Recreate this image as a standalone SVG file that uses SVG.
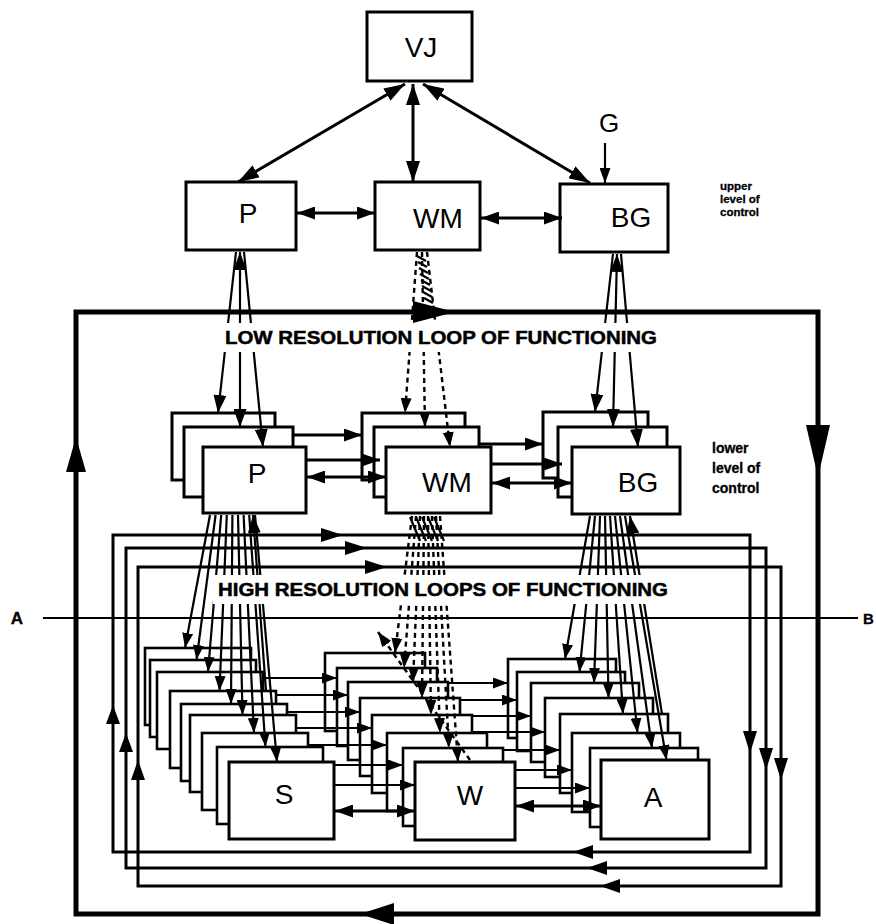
<svg xmlns="http://www.w3.org/2000/svg" width="876" height="924" viewBox="0 0 876 924">
<defs>
<style>
.box{fill:#fff;stroke:#000;stroke-width:3}
.sbox{fill:#fff;stroke:#000;stroke-width:2.6}
.lbl{font-family:"Liberation Sans",Arial,Helvetica,sans-serif;font-size:28px;fill:#000;text-anchor:middle}
.sml{font-family:"Liberation Sans",Arial,Helvetica,sans-serif;font-weight:bold;fill:#000;stroke:#000;stroke-width:0.3}
.big{font-family:"Liberation Sans",Arial,Helvetica,sans-serif;font-weight:bold;font-size:19px;fill:#000;stroke:#000;stroke-width:0.5}
.c3{stroke:#000;stroke-width:3;fill:none}
.c2{stroke:#000;stroke-width:2.2;fill:none}
.dash{stroke:#000;stroke-width:2.4;fill:none;stroke-dasharray:5 4}
.loop{stroke:#000;stroke-width:5;fill:none}
.wb{fill:#fff;stroke:none}
</style>
<marker id="hb" viewBox="0 0 21 14" refX="21" refY="7" markerWidth="21" markerHeight="14" markerUnits="userSpaceOnUse" orient="auto-start-reverse"><path d="M0,0 L21,7 L0,14 z"/></marker>
<marker id="hm" viewBox="0 0 18 13" refX="18" refY="6.5" markerWidth="18" markerHeight="13" markerUnits="userSpaceOnUse" orient="auto-start-reverse"><path d="M0,0 L18,6.5 L0,13 z"/></marker>
<marker id="hs" viewBox="0 0 15 11" refX="15" refY="5.5" markerWidth="15" markerHeight="11" markerUnits="userSpaceOnUse" orient="auto-start-reverse"><path d="M0,0 L15,5.5 L0,11 z"/></marker>
</defs>
<rect x="0" y="0" width="876" height="924" fill="#fff"/>

<g id="VJ"><rect class="box" x="367" y="12" width="105" height="69"/><text class="lbl" x="421" y="57">VJ</text></g>
<g id="P-upper"><rect class="box" x="186" y="182" width="110" height="68"/><text class="lbl" x="248" y="223">P</text></g>
<g id="WM-upper"><rect class="box" x="375" y="182" width="105" height="68"/><text class="lbl" x="438" y="228">WM</text></g>
<g id="BG-upper"><rect class="box" x="560" y="184" width="108" height="68"/><text class="lbl" x="631" y="227">BG</text></g>

<g id="P-lower">
<rect class="box" x="172" y="413" width="103" height="67"/>
<rect class="box" x="184" y="427" width="109" height="70"/>
<rect class="box" x="203" y="447" width="103" height="66"/>
<text class="lbl" x="257" y="483">P</text></g>
<g id="WM-lower">
<rect class="box" x="362" y="413" width="103" height="67"/>
<rect class="box" x="374" y="427" width="105" height="70"/>
<rect class="box" x="386" y="447" width="105" height="66"/>
<text class="lbl" x="447" y="492">WM</text></g>
<g id="BG-lower">
<rect class="box" x="543" y="412" width="105" height="66"/>
<rect class="box" x="558" y="427" width="109" height="70"/>
<rect class="box" x="572" y="447" width="108" height="67"/>
<text class="lbl" x="638" y="492">BG</text></g>

<g id="S-stack">
<rect class="sbox" x="145" y="648" width="106" height="77"/>
<rect class="sbox" x="150" y="660" width="106" height="77"/>
<rect class="sbox" x="157" y="672" width="106" height="77"/>
<rect class="sbox" x="170" y="691" width="106" height="77"/>
<rect class="sbox" x="181" y="704" width="106" height="77"/>
<rect class="sbox" x="190" y="715" width="106" height="77"/>
<rect class="sbox" x="202" y="733" width="106" height="77"/>
<rect class="sbox" x="217" y="747" width="106" height="77"/>
<rect class="box" x="229" y="762" width="105" height="77"/>
<text class="lbl" x="284" y="804">S</text></g>
<g id="W-stack">
<rect class="sbox" x="325" y="653" width="100" height="78"/>
<rect class="sbox" x="337" y="668" width="100" height="78"/>
<rect class="sbox" x="348" y="682" width="100" height="78"/>
<rect class="sbox" x="360" y="698" width="100" height="78"/>
<rect class="sbox" x="372" y="715" width="100" height="78"/>
<rect class="sbox" x="387" y="733" width="100" height="78"/>
<rect class="sbox" x="403" y="748" width="100" height="78"/>
<rect class="box" x="415" y="762" width="100" height="78"/>
<text class="lbl" x="470" y="805">W</text></g>
<g id="A-stack">
<rect class="sbox" x="508" y="659" width="108" height="79"/>
<rect class="sbox" x="517" y="672" width="108" height="79"/>
<rect class="sbox" x="531" y="683" width="108" height="79"/>
<rect class="sbox" x="545" y="698" width="108" height="79"/>
<rect class="sbox" x="560" y="714" width="108" height="79"/>
<rect class="sbox" x="572" y="733" width="108" height="79"/>
<rect class="sbox" x="590" y="748" width="108" height="79"/>
<rect class="box" x="601" y="760" width="108" height="79"/>
<text class="lbl" x="653" y="807">A</text></g>

<g id="connectors">
<line class="c3" x1="405" y1="84" x2="238" y2="182" marker-start="url(#hb)" marker-end="url(#hb)"/>
<line class="c3" x1="413" y1="84" x2="413" y2="182" marker-start="url(#hb)" marker-end="url(#hb)"/>
<line class="c3" x1="423" y1="84" x2="590" y2="183" marker-start="url(#hb)" marker-end="url(#hb)"/>
<line class="c2" x1="605" y1="143" x2="605" y2="183" marker-end="url(#hs)"/>
<line class="c3" x1="297" y1="213" x2="375" y2="213" marker-start="url(#hm)" marker-end="url(#hm)"/>
<line class="c3" x1="481" y1="218" x2="562" y2="218" marker-start="url(#hm)" marker-end="url(#hm)"/>

<line class="c2" x1="236" y1="252" x2="218" y2="413" marker-end="url(#hm)"/>
<line class="c2" x1="240" y1="252" x2="240" y2="427" marker-start="url(#hm)" marker-end="url(#hm)"/>
<line class="c2" x1="244" y1="252" x2="263" y2="447" marker-end="url(#hm)"/>
<line class="c2" x1="613" y1="254" x2="595" y2="412" marker-end="url(#hm)"/>
<line class="c2" x1="617" y1="254" x2="613" y2="427" marker-start="url(#hm)" marker-end="url(#hm)"/>
<line class="c2" x1="621" y1="254" x2="638" y2="447" marker-end="url(#hm)"/>

<line class="dash" x1="417" y1="252" x2="405" y2="413" marker-end="url(#hs)"/>
<line class="dash" x1="422" y1="252" x2="425" y2="427" marker-end="url(#hs)"/>
<line class="dash" x1="427" y1="252" x2="450" y2="447" marker-end="url(#hs)"/>
<g class="c2">
<line x1="417" y1="256" x2="426" y2="261"/><line x1="418" y1="262" x2="427" y2="267"/>
<line x1="419" y1="268" x2="428" y2="273"/><line x1="420" y1="274" x2="429" y2="279"/>
<line x1="421" y1="280" x2="430" y2="285"/><line x1="422" y1="286" x2="431" y2="291"/>
<line x1="423" y1="292" x2="432" y2="297"/><line x1="424" y1="298" x2="433" y2="303"/>
</g>

<line class="c3" x1="293" y1="435" x2="362" y2="435" marker-end="url(#hm)"/>
<line class="c3" x1="306" y1="460" x2="380" y2="460" marker-end="url(#hm)"/>
<line class="c3" x1="307" y1="477" x2="386" y2="477" marker-start="url(#hm)" marker-end="url(#hm)"/>
<line class="c3" x1="480" y1="444" x2="543" y2="444" marker-end="url(#hm)"/>
<line class="c3" x1="491" y1="464" x2="562" y2="464" marker-end="url(#hm)"/>
<line class="c3" x1="492" y1="483" x2="572" y2="483" marker-start="url(#hm)" marker-end="url(#hm)"/>

<rect class="loop" x="76" y="312" width="742" height="602"/>
<polygon points="455,312 413,301 413,323"/>
<polygon points="76,437 66,472 86,472"/>
<polygon points="818,477 806,425 830,425"/>
<polygon points="360,914 394,903 394,925"/>

<rect class="c3" x="113" y="535" width="637" height="317"/>
<rect class="c3" x="126" y="548" width="640" height="320"/>
<rect class="c3" x="138" y="567" width="643" height="319"/>
<polygon points="343,535 321,528 321,542"/>
<polygon points="367,548 345,541 345,555"/>
<polygon points="387,567 365,560 365,574"/>
<polygon points="750,753 743,731 757,731"/>
<polygon points="766,770 759,748 773,748"/>
<polygon points="781,780 774,758 788,758"/>
<polygon points="573,852 593,845 593,859"/>
<polygon points="587,868 607,861 607,875"/>
<polygon points="600,886 620,879 620,893"/>
<polygon points="113,705 106,724 120,724"/>
<polygon points="126,733 119,752 133,752"/>
<polygon points="138,760 131,780 145,780"/>

<line class="c2" x1="43" y1="618" x2="858" y2="618" stroke-width="2.6"/>

<line class="c2" x1="210" y1="515" x2="185" y2="648" marker-end="url(#hs)"/>
<line class="c2" x1="215.6" y1="515" x2="196.5" y2="660" marker-end="url(#hs)"/>
<line class="c2" x1="221.2" y1="515" x2="208" y2="672" marker-end="url(#hs)"/>
<line class="c2" x1="226.8" y1="515" x2="219.5" y2="691" marker-end="url(#hs)"/>
<line class="c2" x1="232.4" y1="515" x2="231" y2="704" marker-end="url(#hs)"/>
<line class="c2" x1="238" y1="515" x2="242.5" y2="715" marker-end="url(#hs)"/>
<line class="c2" x1="243.6" y1="515" x2="254" y2="733" marker-end="url(#hs)"/>
<line class="c2" x1="249.2" y1="515" x2="265.5" y2="747" marker-end="url(#hs)"/>
<line class="c2" x1="255" y1="515" x2="277" y2="762" marker-end="url(#hs)"/>
<line class="c2" x1="266" y1="691" x2="253" y2="515" marker-end="url(#hm)"/>

<line class="c2" x1="590" y1="516" x2="565" y2="659" marker-end="url(#hs)"/>
<line class="c2" x1="595" y1="516" x2="579.5" y2="672" marker-end="url(#hs)"/>
<line class="c2" x1="600" y1="516" x2="594" y2="683" marker-end="url(#hs)"/>
<line class="c2" x1="605" y1="516" x2="608.5" y2="698" marker-end="url(#hs)"/>
<line class="c2" x1="610" y1="516" x2="623" y2="714" marker-end="url(#hs)"/>
<line class="c2" x1="615" y1="516" x2="637.5" y2="733" marker-end="url(#hs)"/>
<line class="c2" x1="620" y1="516" x2="652" y2="748" marker-end="url(#hs)"/>
<line class="c2" x1="625" y1="516" x2="666.5" y2="760" marker-end="url(#hs)"/>
<line class="c2" x1="662" y1="714" x2="630" y2="516" marker-end="url(#hm)"/>

<line class="dash" x1="412" y1="516" x2="395" y2="653" marker-end="url(#hs)"/>
<line class="dash" x1="416" y1="516" x2="404" y2="668" marker-end="url(#hs)"/>
<line class="dash" x1="420" y1="516" x2="413" y2="682" marker-end="url(#hs)"/>
<line class="dash" x1="424" y1="516" x2="422" y2="698" marker-end="url(#hs)"/>
<line class="dash" x1="428" y1="516" x2="431" y2="715" marker-end="url(#hs)"/>
<line class="dash" x1="432" y1="516" x2="440" y2="733" marker-end="url(#hs)"/>
<line class="dash" x1="436" y1="516" x2="449" y2="748" marker-end="url(#hs)"/>
<line class="dash" x1="440" y1="516" x2="458" y2="762" marker-end="url(#hs)"/>
<line class="dash" x1="470" y1="760" x2="378" y2="632" stroke-width="3" marker-end="url(#hs)"/>
<g class="c2">
<line x1="410" y1="517" x2="420" y2="541"/><line x1="416" y1="517" x2="426" y2="541"/>
<line x1="422" y1="517" x2="432" y2="541"/><line x1="428" y1="517" x2="438" y2="541"/>
<line x1="434" y1="517" x2="444" y2="541"/>
</g>

<line class="c2" x1="263" y1="678" x2="337" y2="678" marker-end="url(#hs)"/>
<line class="c2" x1="276" y1="695" x2="348" y2="695" marker-end="url(#hs)"/>
<line class="c2" x1="287" y1="712" x2="360" y2="712" marker-end="url(#hs)"/>
<line class="c2" x1="296" y1="728" x2="372" y2="728" marker-end="url(#hs)"/>
<line class="c2" x1="308" y1="745" x2="387" y2="745" marker-end="url(#hs)"/>
<line class="c2" x1="334" y1="765" x2="403" y2="765" marker-end="url(#hs)"/>
<line class="c2" x1="334" y1="785" x2="415" y2="785" marker-end="url(#hs)"/>
<line class="c3" x1="335" y1="811" x2="415" y2="811" marker-start="url(#hm)" marker-end="url(#hm)"/>

<line class="c2" x1="448" y1="683" x2="508" y2="683" marker-end="url(#hs)"/>
<line class="c2" x1="460" y1="700" x2="517" y2="700" marker-end="url(#hs)"/>
<line class="c2" x1="472" y1="716" x2="531" y2="716" marker-end="url(#hs)"/>
<line class="c2" x1="472" y1="732" x2="545" y2="732" marker-end="url(#hs)"/>
<line class="c2" x1="503" y1="750" x2="560" y2="750" marker-end="url(#hs)"/>
<line class="c2" x1="515" y1="770" x2="572" y2="770" marker-end="url(#hs)"/>
<line class="c2" x1="515" y1="788" x2="590" y2="788" marker-end="url(#hs)"/>
<line class="c3" x1="516" y1="806" x2="601" y2="806" marker-start="url(#hm)" marker-end="url(#hm)"/>
</g>

<g id="labels">
<rect class="wb" x="220" y="323" width="442" height="29"/>
<text class="big" x="225" y="344" textLength="432" lengthAdjust="spacingAndGlyphs">LOW RESOLUTION LOOP OF FUNCTIONING</text>
<rect class="wb" x="213" y="575" width="460" height="29"/>
<text class="big" x="218" y="596" textLength="450" lengthAdjust="spacingAndGlyphs">HIGH RESOLUTION LOOPS OF FUNCTIONING</text>
<text class="lbl" x="609" y="132" style="font-size:26px">G</text>
<text class="sml" x="720" y="190" style="font-size:11.5px">upper</text>
<text class="sml" x="720" y="203" style="font-size:11.5px">level of</text>
<text class="sml" x="720" y="216" style="font-size:11.5px">control</text>
<text class="sml" x="712" y="453" style="font-size:14px">lower</text>
<text class="sml" x="712" y="473" style="font-size:14px">level of</text>
<text class="sml" x="712" y="493" style="font-size:14px">control</text>
<text class="sml" x="17" y="624" style="font-size:17px" text-anchor="middle">A</text>
<text class="sml" x="863" y="624" style="font-size:15px">B</text>
</g>
</svg>
